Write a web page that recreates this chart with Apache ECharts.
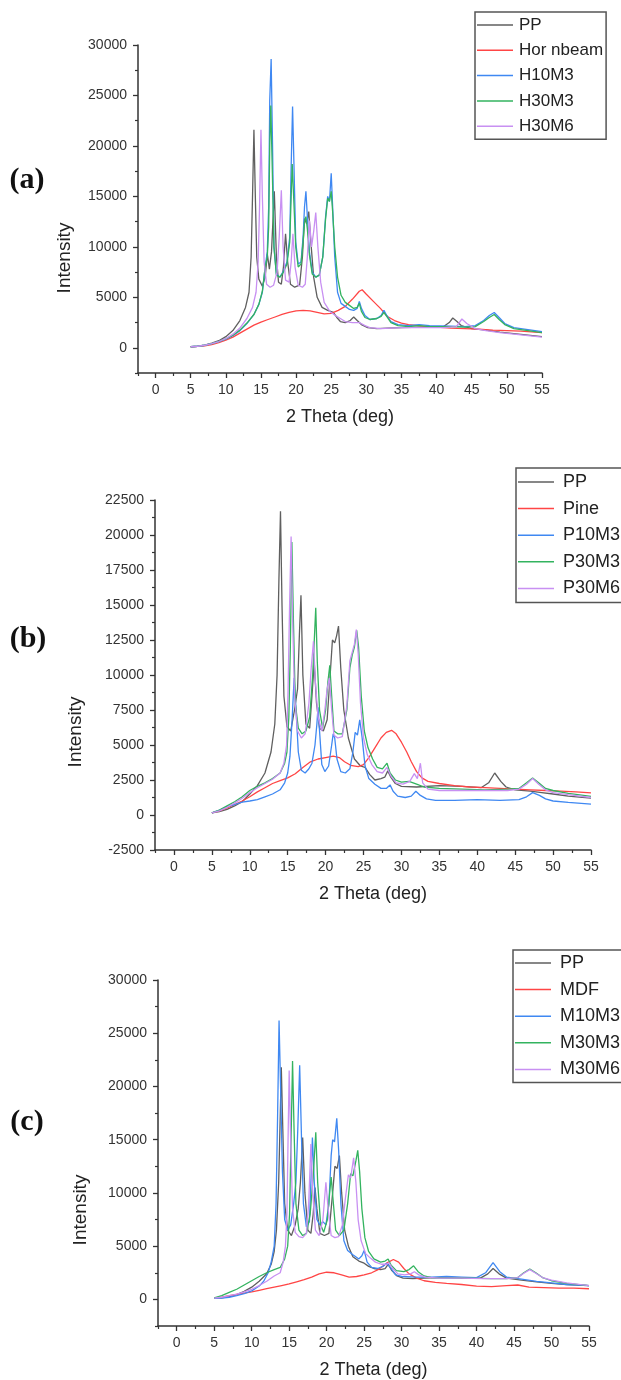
<!DOCTYPE html>
<html>
<head>
<meta charset="utf-8">
<script src="https://cdn.jsdelivr.net/npm/echarts@6/dist/echarts.min.js"></script>
<style>html,body{margin:0;padding:0;background:#fff;}#c{width:621px;height:1380px;}</style>
</head>
<body>
<div id="c"></div>
<script>
// ---------- tick labels ----------
const xTicks = [0,5,10,15,20,25,30,35,40,45,50,55];
const xMinor = [-2.5,2.5,7.5,12.5,17.5,22.5,27.5,32.5,37.5,42.5,47.5,52.5];
const yTicksA = [0,5000,10000,15000,20000,25000,30000];
const yMinorA = [-2500,2500,7500,12500,17500,22500,27500];
const yTicksB = [-2500,0,2500,5000,7500,10000,12500,15000,17500,20000,22500];
const yMinorB = [-1250,1250,3750,6250,8750,11250,13750,16250,18750,21250];
const yTicksC = [0,5000,10000,15000,20000,25000,30000];
const yMinorC = [-2500,2500,7500,12500,17500,22500,27500];

// ---------- panel (a) ----------
const namesA = ['PP','Hor nbeam','H10M3','H30M3','H30M6'];
const aPP = [[5,100],[6,150],[7,250],[8,450],[9,700],[10,1100],[11,1700],[12,2700],[12.8,4000],[13.3,5500],[13.6,9000],[13.8,15000],[14.0,21600],[14.2,15000],[14.4,9000],[14.7,6800],[15.2,6100],[15.6,7000],[15.9,9300],[16.2,7800],[16.5,9500],[16.9,15500],[17.2,9000],[17.5,6500],[17.9,6300],[18.2,8000],[18.5,11300],[18.8,8500],[19.2,6300],[19.8,6000],[20.5,6200],[20.9,9000],[21.2,12800],[21.5,12300],[21.8,13500],[22.1,10500],[22.5,7000],[23.0,5000],[23.7,4000],[24.5,3700],[25.3,3500],[25.8,3000],[26.3,2600],[27,2500],[27.7,2700],[28.2,3050],[28.7,2700],[29.3,2300],[30.2,2000],[31.5,1900],[33,1950],[35,2000],[38,2050],[41,2100],[41.8,2500],[42.3,2950],[42.9,2600],[43.5,2200],[45,1900],[47,1750],[49,1550],[51,1400],[53,1250],[55,1100]];
const aHor = [[5,100],[6,130],[7,200],[8,320],[9,500],[10,750],[11,1050],[12,1450],[13,1850],[14,2250],[15,2550],[16,2800],[17,3050],[18,3300],[19,3500],[20,3650],[21,3700],[22,3650],[23,3500],[24,3350],[25,3400],[26,3700],[27,4100],[28,4800],[29,5600],[29.4,5750],[30,5300],[31,4600],[32,3900],[33,3100],[34,2700],[35,2450],[36,2300],[38,2150],[40,2050],[42,1950],[44,1900],[46,1850],[48,1750],[50,1700],[52,1650],[55,1500]];
const aH10M3 = [[5,100],[6,150],[7,250],[8,400],[9,600],[10,850],[11,1200],[12,1700],[13,2400],[14,3300],[14.7,4300],[15.2,5500],[15.6,8000],[15.9,9500],[16.1,14000],[16.25,24500],[16.45,28600],[16.65,20000],[16.85,10000],[17.2,7300],[17.7,7000],[18.2,7600],[18.7,8500],[19.1,11000],[19.3,18000],[19.5,23900],[19.7,18000],[19.95,10500],[20.3,8300],[20.7,8500],[21.0,11000],[21.2,14000],[21.4,15500],[21.6,13000],[21.9,9500],[22.3,7500],[22.8,7000],[23.3,7200],[23.8,9000],[24.2,13000],[24.5,15000],[24.75,14500],[25.0,17300],[25.2,14000],[25.5,9000],[25.9,5500],[26.4,4400],[27,4100],[27.6,3800],[28.2,3700],[28.7,3900],[29.0,4600],[29.3,3900],[29.8,3200],[30.5,2800],[31.5,2900],[32.1,3200],[32.5,3700],[32.9,3200],[33.5,2600],[34.5,2300],[36,2200],[37.5,2300],[39,2200],[42,2150],[44,2100],[45.5,2200],[46.7,2700],[47.5,3200],[48.2,3500],[48.9,3000],[49.7,2400],[51,2000],[53,1800],[55,1600]];
const aH30M3 = [[5,100],[6,150],[7,250],[8,420],[9,620],[10,880],[11,1250],[12,1750],[13,2450],[14,3300],[14.7,4300],[15.2,5600],[15.6,8000],[15.9,9000],[16.1,12000],[16.25,20000],[16.4,24000],[16.6,18000],[16.85,10000],[17.2,7200],[17.7,7000],[18.2,7500],[18.7,8300],[19.1,10500],[19.3,15000],[19.45,18200],[19.65,15000],[19.95,10000],[20.3,8000],[20.7,8300],[21.0,10500],[21.2,12500],[21.4,13000],[21.6,11800],[21.9,9200],[22.3,7300],[22.8,7000],[23.3,7200],[23.8,9000],[24.2,12800],[24.5,14800],[24.75,14500],[25.0,15500],[25.2,13500],[25.5,10000],[25.9,7000],[26.4,5200],[27,4500],[27.6,4200],[28.2,3900],[28.7,4000],[29.0,4400],[29.3,3600],[29.8,3000],[30.5,2800],[31.5,2900],[32.1,3100],[32.5,3500],[32.9,3100],[33.5,2500],[34.5,2200],[36,2100],[37.5,2200],[39,2100],[42,2100],[44,2050],[45.5,2100],[46.7,2600],[47.5,3000],[48.2,3300],[48.9,2800],[49.7,2300],[51,1900],[53,1700],[55,1500]];
const aH30M6 = [[5,100],[6,150],[7,250],[8,400],[9,620],[10,900],[11,1350],[12,1950],[13,2900],[13.8,4000],[14.3,5500],[14.6,8500],[14.8,14000],[15.0,21600],[15.2,15000],[15.45,8500],[15.8,6300],[16.3,6000],[16.8,6200],[17.3,7500],[17.6,11000],[17.9,15600],[18.15,10000],[18.5,6700],[19.0,6500],[19.3,8500],[19.55,11300],[19.85,8000],[20.3,6200],[20.9,6000],[21.3,6300],[21.6,9000],[21.9,12600],[22.2,10000],[22.5,11500],[22.8,13400],[23.1,10000],[23.5,6500],[24,4500],[24.8,3600],[25.6,3200],[26.3,2900],[27,2600],[28,2500],[29,2500],[29.8,2200],[30.5,2000],[32,1900],[35,2000],[38,2000],[41,2000],[42.8,2100],[43.6,2850],[44.3,2400],[45.5,1900],[47,1700],[49,1500],[51,1350],[53,1200],[55,1050]];

// ---------- panel (b) ----------
const namesB = ['PP','Pine','P10M3','P30M3','P30M6'];
const bPP = [[5,150],[6,250],[7,400],[8,650],[9,950],[10,1500],[11,2100],[12,3000],[12.8,4500],[13.3,6500],[13.6,10000],[13.85,17000],[14.05,21700],[14.25,15000],[14.5,8500],[14.9,6300],[15.4,6000],[15.9,7500],[16.3,9000],[16.55,13000],[16.75,15700],[17.0,10000],[17.4,6500],[17.9,6200],[18.2,8500],[18.5,10900],[18.8,8000],[19.2,6200],[19.7,6000],[20.2,6800],[20.6,10000],[20.9,12500],[21.2,12300],[21.45,12800],[21.7,13500],[22.0,10500],[22.4,7500],[23.0,5500],[23.8,4000],[24.6,3500],[25.2,3400],[25.8,2900],[26.5,2500],[27.3,2600],[27.8,2700],[28.2,3150],[28.6,2700],[29.2,2250],[30,2050],[32,2000],[35,2100],[38,2050],[40.5,1950],[41.5,2300],[42.3,3000],[43.1,2400],[43.8,2000],[45,1800],[47,1700],[48.5,1600],[50,1500],[52,1350],[55,1200]];
const bPine = [[5,150],[6,300],[7,500],[8,750],[9,1000],[10,1300],[11,1650],[12,1950],[13,2250],[14,2450],[15,2650],[16,2950],[17,3400],[18,3800],[19,4000],[20,4100],[21,4200],[21.8,4100],[22.5,3800],[23.3,3550],[24.3,3450],[25,3600],[25.7,4100],[26.5,4800],[27.3,5500],[28,5900],[28.7,6050],[29.3,5800],[30,5200],[30.7,4500],[31.3,3800],[32,3100],[32.7,2650],[33.5,2400],[35,2250],[37,2100],[39,2000],[41,1950],[43,1900],[45,1850],[47,1800],[49,1750],[51,1700],[53,1650],[55,1580]];
const bP10M3 = [[5,150],[6,350],[7,600],[8,750],[9,920],[10,1000],[11,1100],[12,1300],[13,1500],[14,1800],[14.6,2300],[15.0,3000],[15.3,4200],[15.6,7000],[15.85,9800],[16.1,7500],[16.4,4500],[16.8,3200],[17.3,3000],[17.8,3300],[18.2,3700],[18.6,5000],[18.85,6500],[19.0,7700],[19.2,6000],[19.5,3600],[19.9,3100],[20.4,3500],[20.8,5000],[21.0,5800],[21.2,5500],[21.5,4000],[22.0,3100],[22.6,3000],[23.2,3300],[23.6,4500],[23.9,5900],[24.2,5700],[24.5,6800],[24.8,5600],[25.2,3500],[25.7,2600],[26.5,2200],[27.3,1900],[28.0,1900],[28.5,2150],[28.9,1700],[29.5,1350],[30.5,1250],[31.3,1350],[31.9,1700],[32.5,1400],[33.3,1150],[34.5,1050],[37,1050],[40,1100],[43,1050],[45.5,1100],[46.5,1300],[47.3,1600],[48.2,1400],[49,1150],[50,1000],[52,900],[55,780]];
const bP30M3 = [[5,150],[6,350],[7,650],[8,950],[9,1300],[10,1750],[11,2050],[12,2300],[13,2600],[14,3000],[14.6,3700],[14.9,4500],[15.15,7000],[15.35,12000],[15.55,19500],[15.75,14000],[16.0,8000],[16.4,6200],[16.9,5800],[17.4,6000],[17.9,7000],[18.3,10000],[18.55,13000],[18.7,14800],[18.9,11000],[19.2,7500],[19.6,6200],[20.0,7500],[20.3,9500],[20.55,10700],[20.8,8500],[21.1,6000],[21.6,5800],[22.2,5800],[22.8,7500],[23.2,10500],[23.5,11400],[23.8,12000],[24.1,13200],[24.35,12000],[24.7,8500],[25.1,6000],[25.6,4800],[26.2,4000],[26.8,3400],[27.5,3300],[28.1,3700],[28.5,3000],[29.2,2500],[30,2350],[31,2400],[32,2200],[33,2000],[35,1900],[38,1850],[41,1800],[44,1850],[45.5,1900],[46.5,2300],[47.3,2650],[48.1,2300],[49,1900],[50,1750],[52,1550],[55,1330]];
const bP30M6 = [[5,150],[6,300],[7,550],[8,850],[9,1200],[10,1600],[11,1950],[12,2250],[13,2550],[14,3000],[14.5,3700],[14.85,5000],[15.05,9000],[15.25,15000],[15.45,19900],[15.65,14000],[15.9,8500],[16.3,6000],[16.8,5500],[17.3,5800],[17.8,8000],[18.1,10500],[18.4,12400],[18.65,9500],[19.0,7000],[19.5,6000],[19.9,7500],[20.2,9000],[20.5,9800],[20.8,7500],[21.1,5700],[21.6,5500],[22.2,5600],[22.8,7800],[23.2,11000],[23.45,11500],[23.8,12200],[24.05,13250],[24.3,11500],[24.6,8000],[25.0,5500],[25.5,4300],[26.1,3600],[26.8,3100],[27.5,3000],[28.1,3400],[28.6,2800],[29.3,2300],[30.2,2200],[31.1,2400],[31.7,2950],[32.1,2600],[32.5,3700],[32.8,2300],[33.5,1850],[35,1750],[38,1750],[41,1750],[44,1750],[45.5,1850],[46.5,2200],[47.3,2600],[48.1,2200],[49,1800],[50,1600],[52,1450],[55,1250]];

// ---------- panel (c) ----------
const namesC = ['PP','MDF','M10M3','M30M3','M30M6'];
const cPP = [[5,100],[6,150],[7,250],[8,450],[9,750],[10,1150],[11,1700],[12,2400],[12.6,3300],[13.0,4500],[13.3,6500],[13.6,11000],[13.8,17000],[13.95,21800],[14.15,16000],[14.4,9000],[14.8,6500],[15.3,6000],[15.8,7000],[16.2,8500],[16.5,11000],[16.8,15200],[17.1,10000],[17.5,6500],[17.9,6200],[18.2,8000],[18.45,10500],[18.7,8500],[19.1,6200],[19.7,6000],[20.3,6200],[20.8,10000],[21.1,12500],[21.4,12300],[21.7,13500],[22.0,10000],[22.4,6500],[22.9,5000],[23.5,4000],[24.3,3600],[25.0,3400],[25.6,3100],[26.3,2900],[27.2,2800],[27.8,2900],[28.2,3300],[28.7,2700],[29.4,2200],[30.2,2000],[31.5,1950],[33,2000],[35,2050],[38,2000],[40.5,2000],[41.5,2400],[42.2,2900],[43,2400],[44,2000],[46,1800],[48,1650],[50,1500],[52,1400],[55,1300]];
const cMDF = [[5,100],[6,200],[7,350],[8,480],[9,580],[10,700],[11,850],[12,1000],[13,1150],[14,1300],[15,1450],[16,1650],[17,1850],[18,2100],[19,2400],[20,2550],[21,2500],[22,2300],[23,2100],[24,2150],[25,2300],[26,2500],[27,2850],[28,3400],[28.9,3750],[29.6,3500],[30.3,2900],[31,2400],[32,2000],[33,1750],[34.5,1600],[36,1500],[38,1400],[40,1250],[42,1200],[44,1300],[45.5,1350],[47,1150],[49,1100],[51,1050],[53,1050],[55,1000]];
const cM10M3 = [[5,100],[6,130],[7,200],[8,350],[9,550],[10,800],[11,1250],[11.6,1700],[12.2,2500],[12.6,3500],[13.0,5000],[13.25,9000],[13.45,17000],[13.65,26200],[13.85,20000],[14.1,12000],[14.4,7500],[14.8,6500],[15.2,7000],[15.6,9000],[15.9,11000],[16.15,16000],[16.4,22000],[16.65,15000],[16.9,9000],[17.3,6800],[17.7,7300],[17.95,12000],[18.1,15200],[18.35,11000],[18.7,7500],[19.1,7000],[19.5,7300],[19.9,7000],[20.3,9000],[20.6,13500],[20.8,15000],[21.05,14800],[21.35,17000],[21.6,14000],[21.9,9000],[22.3,5500],[22.8,4600],[23.5,4200],[24.3,3800],[24.7,4100],[25.0,4600],[25.4,3500],[26,3000],[26.8,2900],[27.5,3100],[28,3400],[28.5,3000],[29.2,2300],[30,2150],[32,2100],[34,2100],[36,2150],[38,2100],[40,2050],[41.2,2500],[42.2,3450],[43.1,2600],[44,2100],[46,1900],[48,1700],[50,1550],[52,1400],[55,1300]];
const cM30M3 = [[5,150],[6,350],[7,650],[8,950],[9,1350],[10,1750],[11,2150],[12,2500],[13,2800],[13.8,3000],[14.4,3800],[14.8,5000],[15.05,8000],[15.25,15000],[15.45,22400],[15.65,16000],[15.9,9000],[16.3,6500],[16.8,6000],[17.3,6200],[17.8,8000],[18.2,11500],[18.55,15700],[18.8,11000],[19.2,7000],[19.6,6300],[20.1,7500],[20.4,10000],[20.6,11500],[20.9,9000],[21.2,6500],[21.7,6000],[22.3,6500],[22.8,9000],[23.2,11800],[23.5,11600],[23.9,13000],[24.15,14000],[24.4,12000],[24.7,8500],[25.1,5800],[25.6,4500],[26.3,3800],[27.2,3500],[27.8,3600],[28.2,3800],[28.6,3200],[29.3,2700],[30.3,2600],[31,2800],[31.6,3150],[32.2,2600],[33,2200],[34,2050],[36,2000],[39,2000],[42,1950],[44,1950],[45.5,2050],[46.3,2500],[47.1,2850],[47.9,2500],[48.8,2050],[50,1750],[52,1500],[55,1300]];
const cM30M6 = [[5,120],[6,200],[7,350],[8,500],[9,700],[10,950],[11,1300],[12,1700],[13,2200],[13.8,2500],[14.2,3500],[14.5,5000],[14.7,8000],[14.85,15000],[15.0,21500],[15.2,15000],[15.45,8500],[15.8,6300],[16.3,5900],[16.8,5800],[17.3,6200],[17.6,9000],[17.9,14600],[18.15,10000],[18.5,6500],[19.0,6000],[19.5,7500],[19.9,11000],[20.2,8500],[20.6,6000],[21.1,5800],[21.6,5900],[22.1,7000],[22.5,9500],[22.9,11700],[23.2,11400],[23.6,13300],[23.9,11000],[24.2,7500],[24.6,5500],[25.2,4300],[25.8,3900],[26.5,3500],[27.3,3300],[28.0,3300],[28.3,3450],[28.8,2900],[29.5,2400],[30.4,2300],[31.2,2400],[31.7,2600],[32.3,2300],[33.2,2100],[35,2000],[38,2000],[41,1950],[44,1950],[45.5,2050],[46.3,2450],[47.1,2800],[47.9,2450],[48.8,2050],[50,1800],[52,1550],[55,1300]];

// ---------- build ----------
const colors = ['#5f5f5f','#ff4545','#3f88f2','#33b35f','#c890f2'];
const FONT = '"Liberation Sans", Arial, sans-serif';
const AX = '#333';
const grids = [
  {left:138, top:45, width:404, height:328},
  {left:155, top:500, width:436, height:350},
  {left:158, top:980, width:431, height:346}
];
const yCfg = [
  {min:-2500, max:30000, ticks:yTicksA, minor:yMinorA},
  {min:-2500, max:22500, ticks:yTicksB, minor:yMinorB},
  {min:-2500, max:30000, ticks:yTicksC, minor:yMinorC}
];
const panels = [
  {names:namesA, data:[aPP,aHor,aH10M3,aH30M3,aH30M6]},
  {names:namesB, data:[bPP,bPine,bP10M3,bP30M3,bP30M6]},
  {names:namesC, data:[cPP,cMDF,cM10M3,cM30M3,cM30M6]}
];
const plain = v => String(v);
const xAxis = [], yAxis = [], series = [];
grids.forEach((g,i)=>{
  xAxis.push({type:'value', gridIndex:i, position:'bottom', min:-2.5, max:55,
    axisLine:{show:true, onZero:false, lineStyle:{color:AX, width:1.5}},
    axisTick:{show:true, customValues:xTicks, length:5, lineStyle:{color:AX, width:1.3}},
    axisLabel:{show:true, customValues:xTicks, formatter:plain, fontSize:14, color:'#333', margin:10, fontFamily:FONT},
    splitLine:{show:false},
    name:'2 Theta (deg)', nameLocation:'middle', nameGap:35,
    nameTextStyle:{fontSize:18, color:'#222', fontFamily:FONT}});
  xAxis.push({type:'value', gridIndex:i, position:'bottom', min:-2.5, max:55,
    axisLine:{show:false, onZero:false},
    axisTick:{show:true, customValues:xMinor, length:3, lineStyle:{color:AX, width:1.2}},
    axisLabel:{show:false}, splitLine:{show:false}});
  const y = yCfg[i];
  yAxis.push({type:'value', gridIndex:i, position:'left', min:y.min, max:y.max,
    axisLine:{show:true, onZero:false, lineStyle:{color:AX, width:1.5}},
    axisTick:{show:true, customValues:y.ticks, length:5, lineStyle:{color:AX, width:1.3}},
    axisLabel:{show:true, customValues:y.ticks, formatter:plain, fontSize:14, color:'#333', margin:11, fontFamily:FONT},
    splitLine:{show:false}});
  yAxis.push({type:'value', gridIndex:i, position:'left', min:y.min, max:y.max,
    axisLine:{show:false, onZero:false},
    axisTick:{show:true, customValues:y.minor, length:3, lineStyle:{color:AX, width:1.2}},
    axisLabel:{show:false}, splitLine:{show:false}});
  panels[i].data.forEach((d,k)=>{
    series.push({type:'line', name:panels[i].names[k], xAxisIndex:2*i, yAxisIndex:2*i,
      data:d, symbol:'none', showSymbol:false, smooth:false, silent:true,
      lineStyle:{color:colors[k], width:1.3}, itemStyle:{color:colors[k]}});
  });
});
const legendBase = {orient:'vertical', icon:'rect', itemWidth:36, itemHeight:1.5,
  borderColor:'#555', borderWidth:1.5, backgroundColor:'#fff',
  selectedMode:false};
const legend = [
  Object.assign({}, legendBase, {data:namesA, left:475, top:12, itemGap:5.3, padding:[3,3,3,2],
    textStyle:{fontSize:17, color:'#222', fontFamily:FONT, lineHeight:20, padding:[0,0,0,1]}}),
  Object.assign({}, legendBase, {data:namesB, left:516, top:468, itemGap:6.6, padding:[4,30,4,2],
    textStyle:{fontSize:18, color:'#222', fontFamily:FONT, lineHeight:20, padding:[0,0,0,4]}}),
  Object.assign({}, legendBase, {data:namesC, left:513, top:950, itemGap:6.6, padding:[3,30,3,2],
    textStyle:{fontSize:18, color:'#222', fontFamily:FONT, lineHeight:20, padding:[0,0,0,4]}})
];
function vtext(x,y,t){return {type:'text', x:x, y:y, rotation:Math.PI/2,
  style:{text:t, fontSize:19, fontFamily:FONT, fill:'#222', align:'center', verticalAlign:'middle'}};}
function ptext(x,y,t){return {type:'text', x:x, y:y,
  style:{text:t, fontSize:30, fontWeight:'bold', fontFamily:'"Liberation Serif", "Times New Roman", serif', fill:'#111', align:'center', verticalAlign:'middle'}};}
const graphic = [vtext(65,258,'Intensity'), vtext(76,732,'Intensity'), vtext(81,1210,'Intensity'),
  ptext(27,180,'(a)'), ptext(28,639,'(b)'), ptext(27,1122,'(c)')];

const chart = echarts.init(document.getElementById('c'), null, {renderer:'canvas'});
chart.setOption({animation:false, backgroundColor:'#fff', grid:grids, xAxis:xAxis, yAxis:yAxis,
  series:series, legend:legend, graphic:graphic});
</script>
</body>
</html>
